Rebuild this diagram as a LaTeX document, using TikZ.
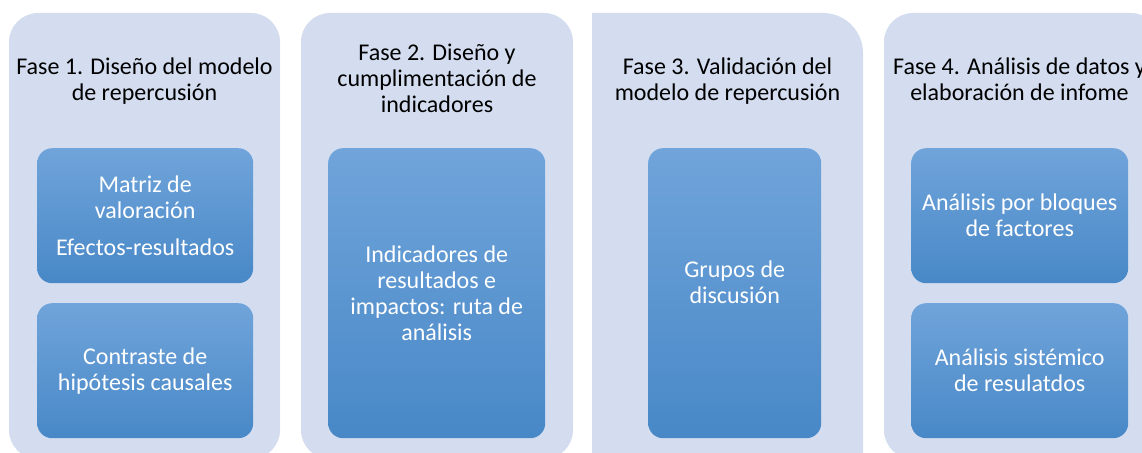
\documentclass[tikz,border=0pt]{standalone}
\usepackage{fontspec}
\setmainfont{Carlito}
\definecolor{panelc}{HTML}{D3DDEF}
\definecolor{boxtop}{HTML}{70A4DA}
\definecolor{boxmid}{HTML}{5B9BDB}
\definecolor{boxbot}{HTML}{4888C7}
\begin{document}
\begin{tikzpicture}[x=1pt,y=-1pt,
  panel/.style={fill=panelc},
  title/.style={anchor=base, align=center, font=\fontsize{24}{26}\selectfont, text=black, inner sep=0pt},
  box/.style={rounded corners=15pt, top color=boxtop, middle color=boxmid, bottom color=boxbot,
    text=white, align=center, font=\fontsize{24}{26}\selectfont, inner sep=0pt, anchor=north west}]
\useasboundingbox (0,0) rectangle (1142,452);
\clip (0,0) rectangle (1142,452);
% panels
\fill[panel, rounded corners=29pt] (9,13) rectangle (280,459);
\fill[panel, rounded corners=29pt] (301,13) rectangle (573,459);
\fill[panel] (592,470) -- (592,13) -- (823,13) .. controls (845.1,13) and (863,30.9) .. (863,53) -- (863,470) -- cycle;
\fill[panel, rounded corners=29pt] (884,13) rectangle (1160,459);
% titles (anchor base = last line)
\node[title] (t1) at (144.5,100) {Fase 1. Diseño del modelo\\de repercusión};
\node[title] (t2) at (437,112) {Fase 2. Diseño y\\cumplimentación de\\indicadores};
\node[title] (t3) at (727.5,100) {Fase 3. Validación del\\modelo de repercusión};
\node[title] (t4) at (1019.5,100) {Fase 4. Análisis de datos y\\elaboración de infome};
% boxes
\node[box, minimum width=216pt, minimum height=135pt] (b1a) at (37,148) {Matriz de\\valoración\\[11pt]Efectos-resultados};
\node[box, minimum width=216pt, minimum height=135pt] (b1b) at (37,303) {Contraste de\\hipótesis causales};
\node[box, minimum width=217pt, minimum height=290pt] (b2) at (328,148) {Indicadores de\\resultados e\\impactos: ruta de\\análisis};
\node[box, minimum width=173pt, minimum height=290pt] (b3) at (648,148) {Grupos de\\discusión\\[-4pt]\mbox{}};
\node[box, minimum width=217pt, minimum height=135pt] (b4a) at (911,148) {Análisis por bloques\\de factores};
\node[box, minimum width=217pt, minimum height=135pt] (b4b) at (911,303) {Análisis sistémico\\de resulatdos};
\end{tikzpicture}
\end{document}
